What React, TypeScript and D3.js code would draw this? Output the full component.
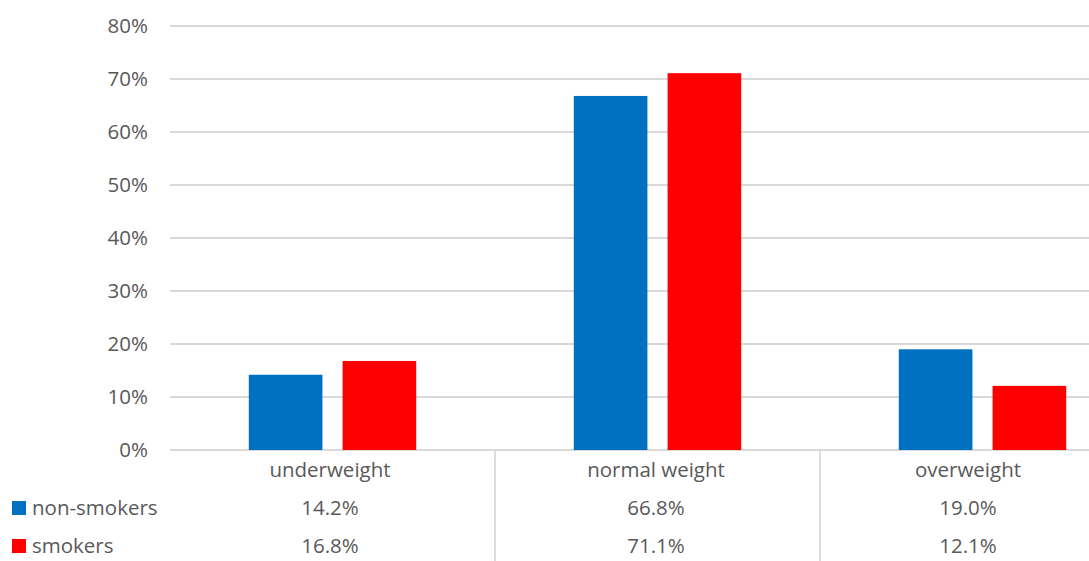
import React from "react";
import * as d3 from "d3";

const categories = ["underweight", "normal weight", "overweight"];
const seriesNames = ["non-smokers", "smokers"];
const nonSmokers = [14.2, 66.8, 19.0];
const smokers = [16.8, 71.1, 12.1];
const yTicks = [0, 10, 20, 30, 40, 50, 60, 70, 80];
const colors = ["#0070C0", "#FF0000"];

const W = 1089;
const H = 561;
const left = 170;
const top = 26;
const bottom = 450;
const font = "'Open Sans', 'Liberation Sans', sans-serif";
const fs = 20.5;
const textColor = "#595959";

export default function App() {
  const series = [nonSmokers, smokers];
  const x = d3.scaleBand<string>().domain(categories).range([left, left + 325 * 3]).paddingInner(0).paddingOuter(0);
  const inner = d3.scaleBand<string>().domain(seriesNames).range([0, x.bandwidth()]).paddingInner(0.215).paddingOuter(0.84);
  const y = d3.scaleLinear().domain([0, 80]).range([bottom, top]);
  const rowY = [470, 508, 546];
  const labelX = [330, 656, 968];

  return (
    <svg width={W} height={H} style={{ position: "absolute", left: 0, top: 0, background: "#fff" }}>
      {yTicks.map((t) => (
        <g key={t}>
          <line x1={left} x2={W} y1={y(t)} y2={y(t)} stroke="#D9D9D9" strokeWidth={1.8} />
          <text x={148} y={y(t)} dy="0.35em" textAnchor="end" fontFamily={font} fontSize={fs} fill={textColor}>
            {t}%
          </text>
        </g>
      ))}
      {series.map((vals, si) =>
        vals.map((v, ci) => (
          <rect
            key={`${si}-${ci}`}
            x={(x(categories[ci]) as number) + (inner(seriesNames[si]) as number)}
            width={inner.bandwidth()}
            y={y(v)}
            height={y(0) - y(v)}
            fill={colors[si]}
          />
        ))
      )}
      {categories.slice(1).map((c) => (
        <line key={c} x1={x(c) as number} x2={x(c) as number} y1={bottom} y2={H} stroke="#D9D9D9" strokeWidth={1.8} />
      ))}
      {categories.map((c, ci) => (
        <g key={c}>
          <text x={labelX[ci]} y={rowY[0]} dy="0.35em" textAnchor="middle" fontFamily={font} fontSize={fs} fill={textColor}>
            {c}
          </text>
          {series.map((vals, si) => (
            <text key={si} x={labelX[ci]} y={rowY[si + 1]} dy="0.35em" textAnchor="middle" fontFamily={font} fontSize={fs} fill={textColor}>
              {vals[ci].toFixed(1)}%
            </text>
          ))}
        </g>
      ))}
      {seriesNames.map((s, si) => (
        <g key={s}>
          <rect x={12} y={rowY[si + 1] - 7} width={14} height={14} fill={colors[si]} />
          <text x={32} y={rowY[si + 1]} dy="0.35em" fontFamily={font} fontSize={fs} fill={textColor}>
            {s}
          </text>
        </g>
      ))}
    </svg>
  );
}
